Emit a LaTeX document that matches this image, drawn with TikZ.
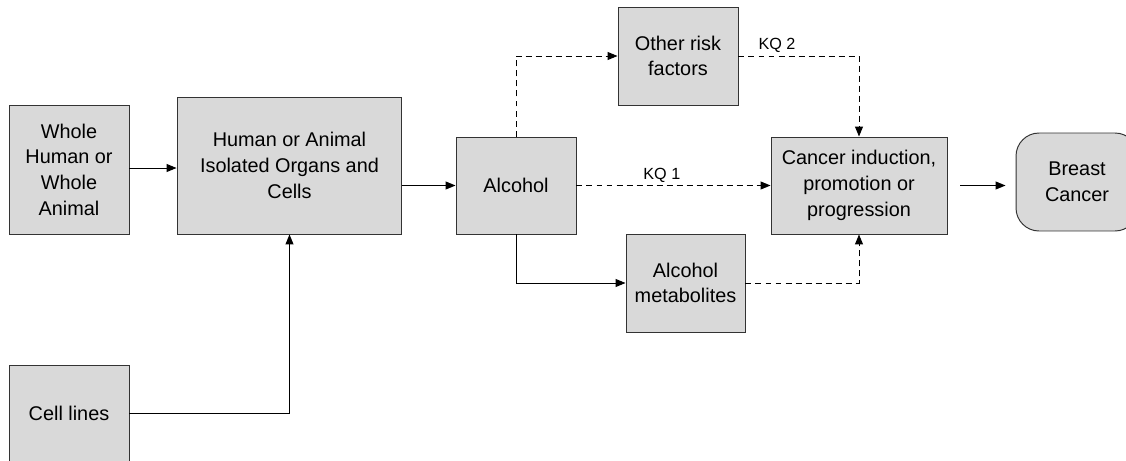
\documentclass[tikz,border=0pt]{standalone}
\usepackage{fontspec}
\setmainfont{Liberation Sans}
\usetikzlibrary{arrows.meta}
\tikzset{>={Triangle[length=2mm,width=1.6mm]}}

\begin{document}
\begin{tikzpicture}[x=0.02cm, y=-0.02cm,
  box/.style={draw=black!80, fill=black!15, line width=0.55pt, align=center, inner sep=0pt,
    font=\fontsize{11.3}{14.6}\selectfont},
  link/.style={->, line width=0.55pt},
  dashlink/.style={link, dash pattern=on 3.4pt off 2.3pt},
  kq/.style={font=\fontsize{9.2}{11}\selectfont, inner sep=1.5pt}]
  \useasboundingbox (0,0) rectangle (1126,460);
  \clip (0,0) rectangle (1126,460);
  \node[box, minimum width=2.4cm, minimum height=2.58cm] (whole) at (69,169.5) {Whole\\Human or\\Whole\\Animal};
  \node[box, minimum width=4.5cm, minimum height=2.74cm] (organs) at (289.5,165.5) {Human or Animal\\Isolated Organs and\\Cells};
  \node[box, minimum width=2.4cm, minimum height=1.92cm] (cells) at (69,413) {Cell lines};
  \node[box, minimum width=2.4cm, minimum height=1.94cm] (alcohol) at (516,185.5) {Alcohol};
  \node[box, minimum width=2.4cm, minimum height=1.96cm] (risk) at (678,56) {Other risk\\factors};
  \node[box, minimum width=2.38cm, minimum height=1.96cm] (metab) at (685.5,283) {Alcohol\\metabolites};
  \node[box, minimum width=3.52cm, minimum height=1.94cm] (cancer) at (859,185.5) {Cancer induction,\\promotion or\\progression};
  \node[box, rounded corners=0.46cm, minimum width=2.44cm, minimum height=1.96cm] (breast) at (1077,182) {Breast\\Cancer};

  \draw[link] (whole.east |- 0,168) -- (organs.west |- 0,168);
  \draw[link] (cells.east) -| (organs.south);
  \draw[link] (organs.east |- alcohol) -- (alcohol.west);
  \draw[dashlink] (alcohol.north) |- (risk.west);
  \draw[link] (alcohol.south) |- (metab.west);
  \draw[dashlink] (alcohol.east) -- node[kq, above, pos=0.44] {KQ 1} (cancer.west);
  \draw[dashlink] (risk.east) -| node[kq, above, pos=0.16] {KQ 2} (cancer.north);
  \draw[dashlink] (metab.east) -| (cancer.south);
  \draw[link, shorten <=0.26cm, shorten >=0.2cm] (cancer.east) -- (breast.west |- cancer.east);
\end{tikzpicture}
\end{document}
